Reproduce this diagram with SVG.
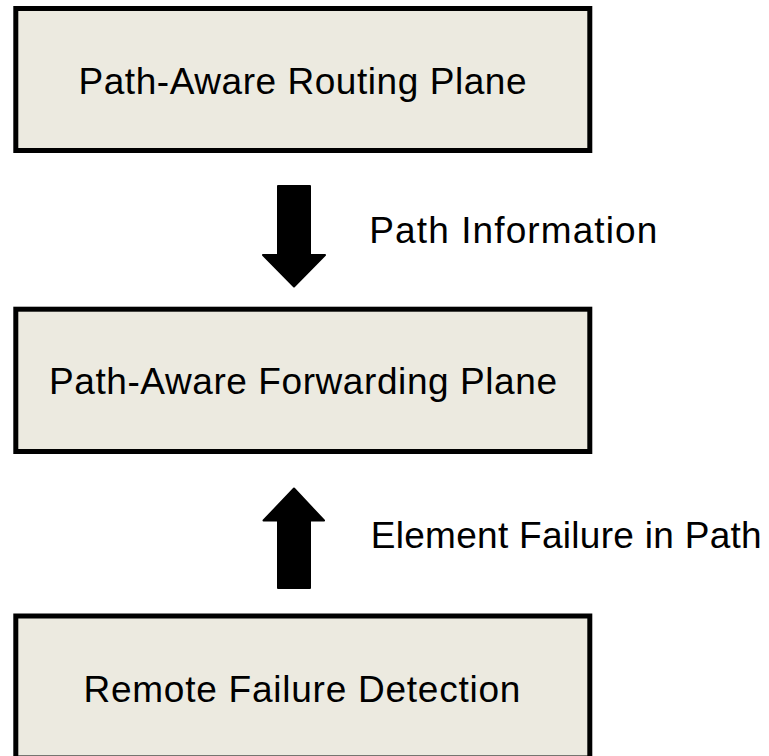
<svg xmlns="http://www.w3.org/2000/svg" width="769" height="756" viewBox="0 0 769 756">
  <style>
    .box { fill: #ECEAE0; stroke: #000000; stroke-width: 5; }
    .label { font-family: "Liberation Sans", Arial, sans-serif; font-size: 37px; fill: #000000; }
    .arrow { fill: #000000; stroke: #000000; stroke-width: 2; stroke-linejoin: round; }
  </style>
  <rect x="0" y="0" width="769" height="756" fill="#FFFFFF"/>

  <g id="routing-plane">
    <rect class="box" x="15.8" y="8.5" width="574" height="142"/>
    <text class="label" x="78.5" y="93.5" textLength="448" lengthAdjust="spacing">Path-Aware Routing Plane</text>
  </g>

  <g id="forwarding-plane">
    <rect class="box" x="15.8" y="309.2" width="574" height="142.3"/>
    <text class="label" x="49" y="394.3" textLength="508" lengthAdjust="spacing">Path-Aware Forwarding Plane</text>
  </g>

  <g id="failure-detection">
    <rect class="box" x="15.8" y="616" width="574" height="142"/>
    <text class="label" x="83.4" y="701.7" textLength="437" lengthAdjust="spacing">Remote Failure Detection</text>
  </g>

  <g id="connectors">
    <!-- routing plane feeds path information down to forwarding -->
    <path class="arrow" d="M278,186 L310,186 L310,255 L325,255 L294,286.5 L263,255 L278,255 Z"/>
    <text class="label" x="369.3" y="242.7" textLength="288" lengthAdjust="spacing">Path Information</text>
    <!-- failure detection reports up to forwarding -->
    <path class="arrow" d="M294,488.5 L324,520.5 L310,520.5 L310,588 L278,588 L278,520.5 L263.5,520.5 Z"/>
    <text class="label" x="370.7" y="547.7" textLength="391" lengthAdjust="spacing">Element Failure in Path</text>
  </g>
</svg>
